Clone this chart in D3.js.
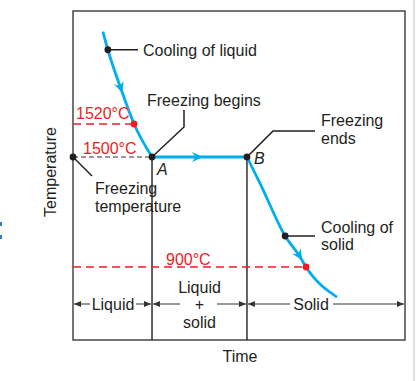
<!DOCTYPE html>
<html><head><meta charset="utf-8">
<script src="https://cdn.jsdelivr.net/npm/d3@7"></script>
<style>
html,body{margin:0;padding:0;background:#fff;}
text{font-family:"Liberation Sans",Arial,Helvetica,sans-serif;fill:#231f20;}
</style></head>
<body>
<svg id="c" width="417" height="381"></svg>
<script>
// ---- data (time in arbitrary units, temperature in °C, schematic) ----
const liquidCurve = [[9,1576],[10.5,1565],[14.5,1541],[18.4,1520],[23.8,1500]];
const plateau     = [[23.8,1500],[52.4,1500]];
const solidCurve  = [[52.4,1500],[56.3,1358],[63.9,1069],[68.4,955],[70.2,900],[79.5,736]];
const refTemps    = [1520, 1500, 900];
const refLabels   = ["1520°C", "1500°C", "900°C"];
const refTimes    = [18.4, 23.8, 70.2];
const phaseBounds = [0, 23.8, 52.4, 100];
const phaseNames  = [["Liquid"], ["Liquid", "+", "solid"], ["Solid"]];
const arrowTimes  = [14.5, 38, 68.4];

const svg = d3.select("#c");
const L = 73, R = 405, T = 11, B = 340;
const x = d3.scaleLinear().domain([0, 100]).range([L, R]);
const y = d3.scaleLinear().domain([900, 1500, 1520]).range([267, 157, 124]);

const blue = "#00aeef", red = "#ed1c24", ink = "#231f20";

// artifacts at edges
svg.append("line").attr("x1",414).attr("x2",414).attr("y1",0).attr("y2",381)
  .attr("stroke","#d4d4d4").attr("stroke-width",1.5);
svg.append("rect").attr("x",0).attr("y",222).attr("width",2).attr("height",4).attr("fill","#2a7fd4");
svg.append("rect").attr("x",0).attr("y",235).attr("width",2).attr("height",4).attr("fill","#2a7fd4");

// frame
svg.append("rect").attr("x",L).attr("y",T).attr("width",R-L).attr("height",B-T)
  .attr("fill","none").attr("stroke","#3a3a3a").attr("stroke-width",1.4);

// phase boundaries
[phaseBounds[1], phaseBounds[2]].forEach(t => {
  svg.append("line").attr("x1",x(t)).attr("x2",x(t)).attr("y1",y(1500)).attr("y2",B)
    .attr("stroke",ink).attr("stroke-width",1.4);
});

// reference dashed lines
svg.append("line").attr("x1",x(0)).attr("x2",x(refTimes[0])).attr("y1",y(refTemps[0])).attr("y2",y(refTemps[0]))
  .attr("stroke",red).attr("stroke-width",1.6).attr("stroke-dasharray","8,5");
svg.append("line").attr("x1",x(0)).attr("x2",x(refTimes[1])).attr("y1",y(refTemps[1])).attr("y2",y(refTemps[1]))
  .attr("stroke","#333").attr("stroke-width",1.2).attr("stroke-dasharray","5,3");
svg.append("line").attr("x1",x(0)).attr("x2",x(refTimes[2])).attr("y1",y(refTemps[2])).attr("y2",y(refTemps[2]))
  .attr("stroke",red).attr("stroke-width",1.6).attr("stroke-dasharray","8,5");

// curve
const line = d3.line().x(d => x(d[0])).y(d => y(d[1])).curve(d3.curveMonotoneX);
const paths = [liquidCurve, plateau, solidCurve].map(seg =>
  svg.append("path").attr("d", line(seg)).attr("fill","none")
    .attr("stroke", blue).attr("stroke-width", 2.8).attr("stroke-linejoin","round").node());

// arrowheads along curve
function placeArrow(p, t) {
  const tot = p.getTotalLength(); const tx = x(t);
  let best = 0, bd = 1e9;
  for (let l = 0; l <= tot; l += 0.5) { const q = p.getPointAtLength(l); const d = Math.abs(q.x - tx); if (d < bd) { bd = d; best = l; } }
  const a = p.getPointAtLength(Math.max(0, best - 2)), b = p.getPointAtLength(Math.min(tot, best + 2));
  const c = p.getPointAtLength(best);
  const ang = Math.atan2(b.y - a.y, b.x - a.x) * 180 / Math.PI;
  svg.append("path").attr("d","M4,0 L-7,-5 L-3.5,0 L-7,5 Z").attr("fill",blue)
    .attr("transform",`translate(${c.x},${c.y}) rotate(${ang})`);
}
arrowTimes.forEach((t, i) => placeArrow(paths[i], t));

// leader lines
const lead = (pts) => svg.append("path").attr("d", d3.line()(pts)).attr("fill","none")
  .attr("stroke",ink).attr("stroke-width",1.5);
lead([[x(10.5), y(1565)], [138, y(1565)]]);
lead([[x(23.8), y(1500)], [184, 127], [184, 110]]);
lead([[x(0), y(1500)], [92, 176]]);
lead([[x(52.4), y(1500)], [273, 131], [315, 131]]);
lead([[x(63.9), y(1069)], [315, y(1069)]]);

// dots
const dots = [[10.5,1565],[23.8,1500],[52.4,1500],[63.9,1069],[0,1500]];
svg.selectAll("circle.k").data(dots).enter().append("circle")
  .attr("cx",d=>x(d[0])).attr("cy",d=>y(d[1])).attr("r",3.4).attr("fill",ink);
svg.selectAll("circle.r").data([[refTimes[0],refTemps[0]],[refTimes[2],refTemps[2]]]).enter().append("circle")
  .attr("cx",d=>x(d[0])).attr("cy",d=>y(d[1])).attr("r",3.4).attr("fill",red);

// text helper
function txt(s, px, py, opts = {}) {
  const t = svg.append("text").attr("x",px).attr("y",py).attr("dy","0.35em")
    .attr("font-size", opts.size || 16).text(s);
  if (opts.anchor) t.attr("text-anchor", opts.anchor);
  if (opts.fill) t.style("fill", opts.fill);
  if (opts.italic) t.attr("font-style","italic");
  return t;
}
txt("Cooling of liquid", 143, 50);
txt("Freezing begins", 147, 100);
txt(refLabels[0], 76, 113, {fill: red});
txt(refLabels[1], 83, 148, {fill: red});
txt(refLabels[2], 166, 259, {fill: red});
txt("A", 157, 169, {italic: true});
txt("B", 254, 158, {italic: true});
txt("Freezing", 95, 188);
txt("temperature", 95, 206);
txt("Freezing", 321, 120);
txt("ends", 321, 138);
txt("Cooling of", 321, 227);
txt("solid", 321, 244);

// phase row
const rowY = 304;
const arrowHead = (x1, x2) => {
  svg.append("line").attr("x1",x1).attr("x2",x2).attr("y1",rowY).attr("y2",rowY)
    .attr("stroke","#333").attr("stroke-width",1);
  const dir = x2 > x1 ? 1 : -1;
  svg.append("path").attr("d",`M${x2},${rowY} L${x2-7*dir},${rowY-3} L${x2-7*dir},${rowY+3} Z`).attr("fill","#333");
};
const bx = phaseBounds.map(x);
// Liquid
txt(phaseNames[0][0], (bx[0]+bx[1])/2 + 0.5, rowY, {anchor:"middle"});
arrowHead(90, bx[0] + 1); arrowHead(136, bx[1] - 1);
// Liquid + solid
const mc = (bx[1]+bx[2])/2;
txt(phaseNames[1][0], mc, 287, {anchor:"middle"});
txt(phaseNames[1][1], mc, 304, {anchor:"middle"});
txt(phaseNames[1][2], mc, 322, {anchor:"middle"});
arrowHead(180, bx[1] + 1); arrowHead(217, bx[2] - 1);
// Solid
txt(phaseNames[2][0], 311, rowY, {anchor:"middle"});
arrowHead(290, bx[2] + 1); arrowHead(333, bx[3] - 1);

// axis titles
txt("Time", x(50) + 1, 356, {anchor:"middle"});
svg.append("text").attr("transform","translate(50,172) rotate(-90)").attr("dy","0.35em")
  .attr("text-anchor","middle").attr("font-size",16).text("Temperature");
</script>
</body></html>
